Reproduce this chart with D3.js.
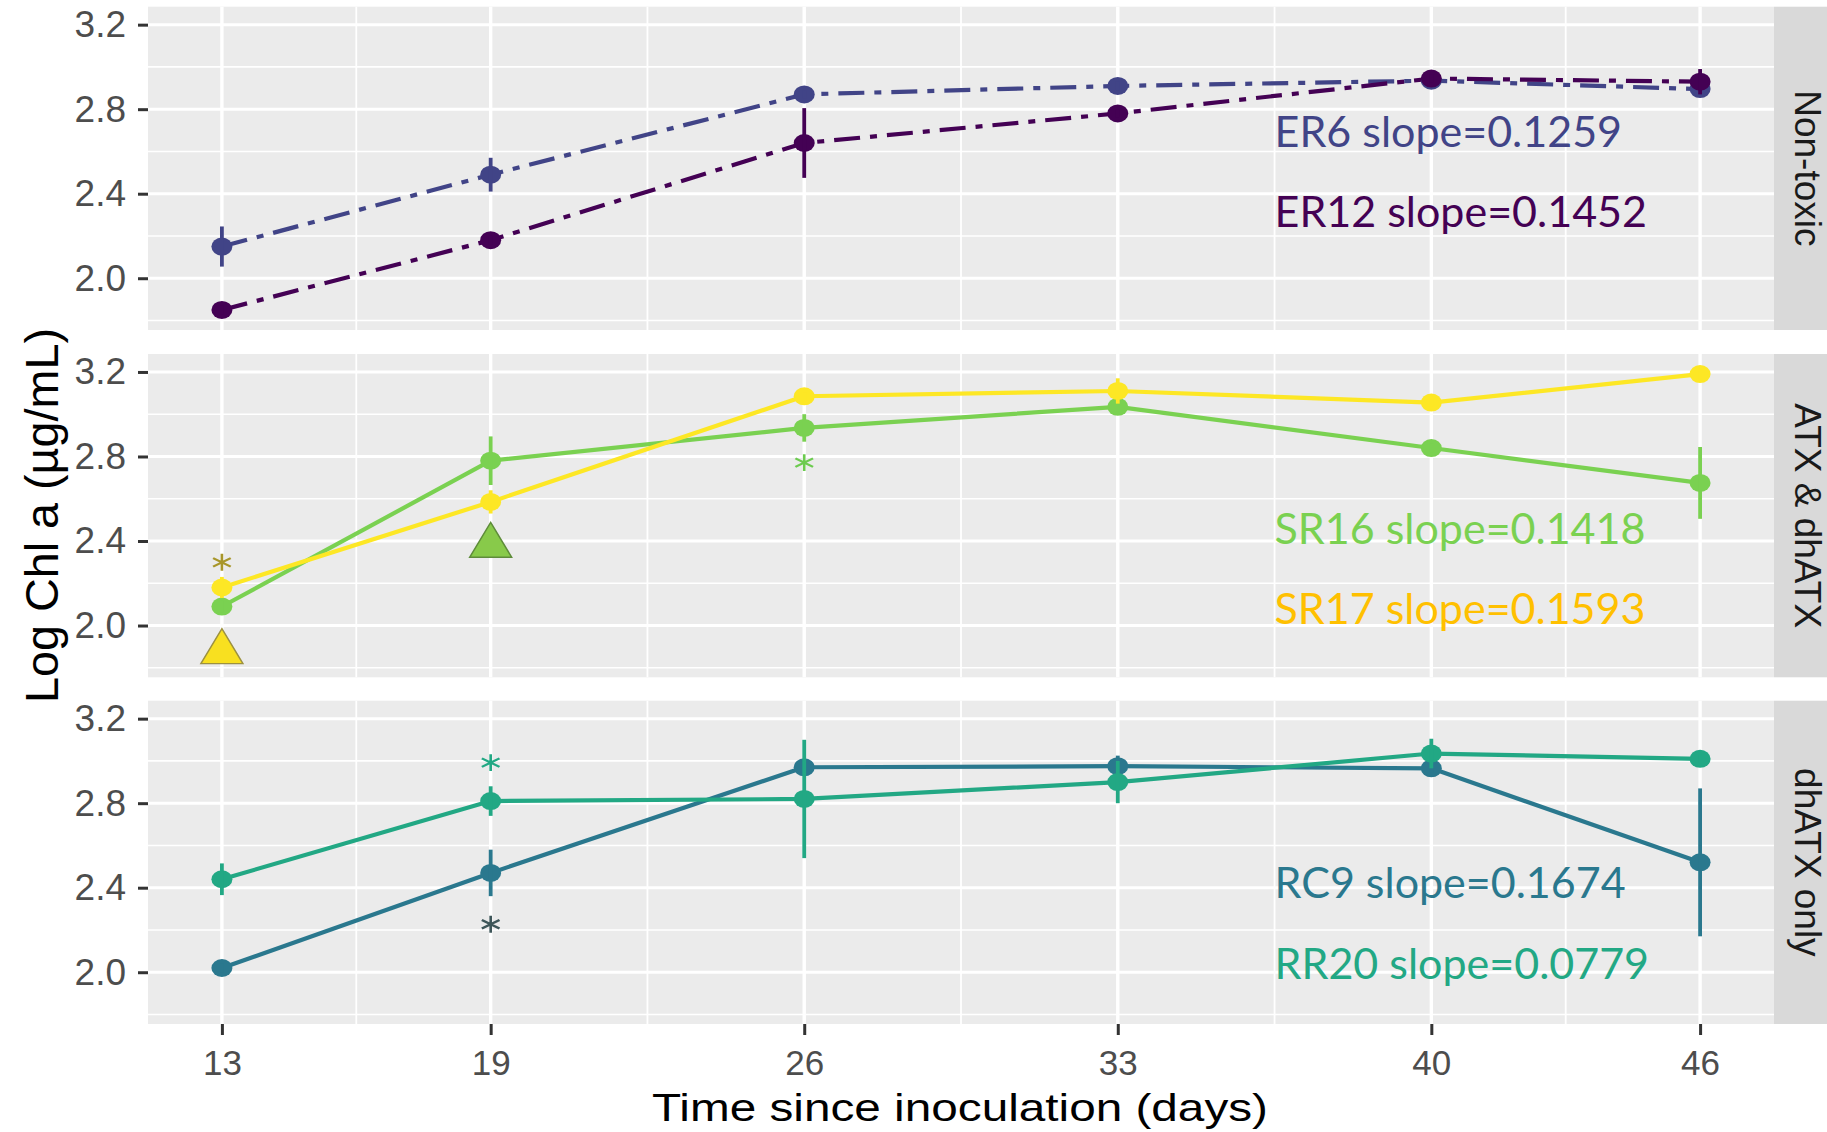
<!DOCTYPE html>
<html>
<head>
<meta charset="utf-8">
<script src="https://cdn.jsdelivr.net/npm/d3@7"></script>
<style>
  body { margin: 0; background: #fff; }
</style>
</head>
<body>
<script>
const days = [13, 19, 26, 33, 40, 46]
const yTickValues = [2.0, 2.4, 2.8, 3.2]
const yMinorValues = [1.8, 2.2, 2.6, 3.0]
const facets = ["Non-toxic", "ATX & dhATX", "dhATX only"]

// mean log chl a per sampling day, and half length of the error bar
const er6 = [2.15, 2.49, 2.87, 2.91, 2.935, 2.895]
const er6Err = [0.095, 0.08, 0.02, 0.02, 0.02, 0.02]
const er12 = [1.85, 2.18, 2.64, 2.78, 2.945, 2.93]
const er12Err = [0.02, 0.02, 0.165, 0.02, 0.02, 0.06]
const sr16 = [2.09, 2.78, 2.935, 3.035, 2.84, 2.675]
const sr16Err = [0.03, 0.115, 0.065, 0.02, 0.02, 0.17]
const sr17 = [2.18, 2.585, 3.085, 3.11, 3.055, 3.19]
const sr17Err = [0.05, 0.055, 0.02, 0.06, 0.02, 0.02]
const rc9 = [2.02, 2.47, 2.97, 2.975, 2.965, 2.52]
const rc9Err = [0.02, 0.11, 0.03, 0.05, 0.02, 0.35]
const rr20 = [2.44, 2.81, 2.82, 2.9, 3.035, 3.01]
const rr20Err = [0.075, 0.07, 0.28, 0.1, 0.07, 0.02]

const strains = ["ER6", "ER12", "SR16", "SR17", "RC9", "RR20"]
const slopes = ["0.1259", "0.1452", "0.1418", "0.1593", "0.1674", "0.0779"]
const strainFacet = [0, 0, 1, 1, 2, 2]

// significance marks (asterisks) and triangles
const stars = [
  { facet: 1, day: 13, value: 2.299, strain: "SR17" },
  { facet: 1, day: 26, value: 2.771, strain: "SR16" },
  { facet: 2, day: 19, value: 2.992, strain: "RR20" },
  { facet: 2, day: 19, value: 2.227, strain: "RC9" }
]
const triangles = [
  { facet: 1, day: 13, value: 1.875, strain: "SR17" },
  { facet: 1, day: 19, value: 2.378, strain: "SR16" }
]

const values = [er6, er12, sr16, sr17, rc9, rr20]
const errs = [er6Err, er12Err, sr16Err, sr17Err, rc9Err, rr20Err]
const colors = { ER6: "#414487", ER12: "#440154", SR16: "#7AD151", SR17: "#FDE725", RC9: "#2A788E", RR20: "#22A884" }
const textColors = { ER6: "#414487", ER12: "#440154", SR16: "#7AD151", SR17: "#FFC000", RC9: "#2A788E", RR20: "#22A884" }
const starColors = { SR17: "#A8962A", SR16: "#6CCB4F", RR20: "#22A884", RC9: "#3E5659" }
const triFill = { SR17: "#F8E020", SR16: "#88CA4A" }
const triStroke = { SR17: "#9C9140", SR16: "#5E8C3A" }
// where the slope text sits, in data units of its panel
const labelDay = 36.5
const labelValue = [2.621, 2.242, 2.388, 2.008, 2.351, 1.967]

const series = strains.map((s, i) => ({
  name: s,
  facet: strainFacet[i],
  points: days.map((d, j) => ({ day: d, value: values[i][j], err: errs[i][j] })),
  dashed: strainFacet[i] === 0
}))

const width = 1827
const height = 1132
const panelTop = [6.7, 354, 700.7]
const panelH = 323.3

const x = d3.scaleLinear()
    .domain([11.35, 47.65])
    .range([148, 1774])
const yFor = i => d3.scaleLinear()
    .domain([1.755, 3.285])
    .range([panelTop[i] + panelH, panelTop[i]])

const svg = d3.select('body')
    .append('svg')
    .attr('width', width)
    .attr('height', height)
    .style('font-family', '"Liberation Sans", Arial, sans-serif')

const xMinor = d3.pairs(days).map(p => (p[0] + p[1]) / 2)

facets.forEach((facet, i) => {
    const y = yFor(i)
    const g = svg.append('g')

    g.append('rect')
        .attr('x', x.range()[0])
        .attr('y', panelTop[i])
        .attr('width', x.range()[1] - x.range()[0])
        .attr('height', panelH)
        .attr('fill', '#EBEBEB')

    g.selectAll('.hminor')
        .data(yMinorValues)
        .join('line')
        .attr('x1', x.range()[0]).attr('x2', x.range()[1])
        .attr('y1', d => y(d)).attr('y2', d => y(d))
        .attr('stroke', '#fff').attr('stroke-width', 1.6)
    g.selectAll('.vminor')
        .data(xMinor)
        .join('line')
        .attr('x1', d => x(d)).attr('x2', d => x(d))
        .attr('y1', panelTop[i]).attr('y2', panelTop[i] + panelH)
        .attr('stroke', '#fff').attr('stroke-width', 1.8)
    g.selectAll('.hmajor')
        .data(yTickValues)
        .join('line')
        .attr('x1', x.range()[0]).attr('x2', x.range()[1])
        .attr('y1', d => y(d)).attr('y2', d => y(d))
        .attr('stroke', '#fff').attr('stroke-width', 3)
    g.selectAll('.vmajor')
        .data(days)
        .join('line')
        .attr('x1', d => x(d)).attr('x2', d => x(d))
        .attr('y1', panelTop[i]).attr('y2', panelTop[i] + panelH)
        .attr('stroke', '#fff').attr('stroke-width', 3.4)

    const yAxis = d3.axisLeft(y)
        .tickValues(yTickValues)
        .tickFormat(d3.format('.1f'))
        .tickSize(10)
        .tickPadding(12)
    g.append('g')
        .attr('transform', `translate(${x.range()[0]},0)`)
        .call(yAxis)
        .call(a => a.select('.domain').remove())
        .call(a => a.selectAll('line').attr('stroke', '#333').attr('stroke-width', 3))
        .call(a => a.selectAll('text')
            .attr('fill', '#4D4D4D')
            .attr('font-size', 37)
            .attr('font-family', '"Liberation Sans", Arial, sans-serif'))

    // facet strip
    g.append('rect')
        .attr('x', x.range()[1])
        .attr('y', panelTop[i])
        .attr('width', width - x.range()[1])
        .attr('height', panelH)
        .attr('fill', '#D9D9D9')
    g.append('text')
        .attr('transform', `translate(1795,${panelTop[i] + panelH / 2}) rotate(90)`)
        .attr('text-anchor', 'middle')
        .attr('font-size', 37)
        .attr('fill', '#1A1A1A')
        .text(facet)
})

// x axis under the last panel
const xAxis = d3.axisBottom(x)
    .tickValues(days)
    .tickSize(11)
    .tickPadding(15)
svg.append('g')
    .attr('transform', `translate(0,${panelTop[2] + panelH})`)
    .call(xAxis)
    .call(a => a.select('.domain').remove())
    .call(a => a.selectAll('line').attr('stroke', '#333').attr('stroke-width', 3))
    .call(a => a.selectAll('text')
        .attr('fill', '#4D4D4D')
        .attr('font-size', 35)
        .attr('font-family', '"Liberation Sans", Arial, sans-serif'))

// lines, then points, then error bars
const line = (s) => {
    const y = yFor(s.facet)
    return d3.line().x(d => x(d.day)).y(d => y(d.value))(s.points)
}
svg.append('g')
    .selectAll('path')
    .data(series)
    .join('path')
    .attr('d', line)
    .attr('fill', 'none')
    .attr('stroke', d => colors[d.name])
    .attr('stroke-width', 4.2)
    .attr('stroke-linejoin', 'round')
    .attr('stroke-dasharray', d => d.dashed ? '26 10 7 10' : null)

series.forEach(s => {
    const y = yFor(s.facet)
    const g = svg.append('g')
    g.selectAll('ellipse')
        .data(s.points)
        .join('ellipse')
        .attr('cx', d => x(d.day))
        .attr('cy', d => y(d.value))
        .attr('rx', 10.5)
        .attr('ry', 9)
        .attr('fill', colors[s.name])
    g.selectAll('line')
        .data(s.points)
        .join('line')
        .attr('x1', d => x(d.day)).attr('x2', d => x(d.day))
        .attr('y1', d => y(d.value - d.err))
        .attr('y2', d => y(d.value + d.err))
        .attr('stroke', colors[s.name])
        .attr('stroke-width', 3.8)
})

svg.append('g')
    .selectAll('path')
    .data(triangles)
    .join('path')
    .attr('d', d3.symbol(d3.symbolTriangle, 707))
    .attr('transform', d => `translate(${x(d.day)},${yFor(d.facet)(d.value)}) scale(1.04,1)`)
    .attr('fill', d => triFill[d.strain])
    .attr('stroke', d => triStroke[d.strain])
    .attr('stroke-width', 1.4)

svg.append('g')
    .selectAll('path')
    .data(stars)
    .join('path')
    .attr('d', d3.symbol(d3.symbolAsterisk, 203))
    .attr('transform', d => `translate(${x(d.day)},${yFor(d.facet)(d.value)}) scale(1.2,1)`)
    .attr('fill', 'none')
    .attr('stroke', d => starColors[d.strain])
    .attr('stroke-width', 2.2)

// slope annotations
svg.append('g')
    .selectAll('text')
    .data(series)
    .join('text')
    .attr('x', x(labelDay))
    .attr('y', (d, i) => yFor(d.facet)(labelValue[i]))
    .attr('font-family', 'Lato, "Open Sans", sans-serif')
    .attr('font-size', 43)
    .attr('fill', d => textColors[d.name])
    .text((d, i) => `${d.name} slope=${slopes[i]}`)

svg.append('text')
    .attr('x', 960)
    .attr('y', 1121)
    .attr('text-anchor', 'middle')
    .attr('font-size', 39)
    .attr('textLength', 616)
    .attr('lengthAdjust', 'spacingAndGlyphs')
    .attr('fill', '#000')
    .text('Time since inoculation (days)')

svg.append('text')
    .attr('transform', 'translate(58,515.5) rotate(-90)')
    .attr('text-anchor', 'middle')
    .attr('font-size', 46)
    .attr('textLength', 375)
    .attr('lengthAdjust', 'spacingAndGlyphs')
    .attr('fill', '#000')
    .text('Log Chl a (µg/mL)')
</script>
</body>
</html>
